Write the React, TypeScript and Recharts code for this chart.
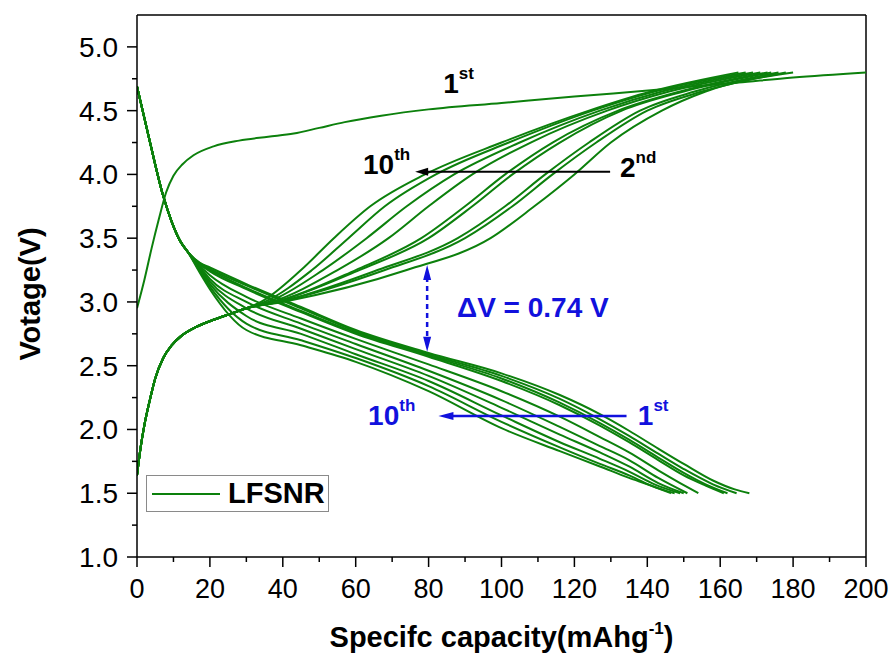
import React from 'react';
import { LineChart, Line, XAxis, YAxis, Legend, ReferenceLine, ReferenceDot } from 'recharts';

// capacity (mAh/g), voltage (V) pairs
const charge1 = [[0, 2.95], [2, 3.17], [4, 3.42], [6, 3.65], [8, 3.86], [10, 3.99], [12.5, 4.08], [15.5, 4.15], [21, 4.22], [28, 4.265], [36, 4.295], [43, 4.32], [50, 4.365], [57, 4.41], [67, 4.46], [80, 4.51], [100, 4.56], [120, 4.61], [141, 4.66], [165, 4.72], [180, 4.76], [200, 4.8]];

const disStart = [[0, 4.69], [3.5, 4.26], [7.2, 3.83], [9.5, 3.63], [11.8, 3.48], [14, 3.39]];
const dis1 = [[17, 3.31], [20, 3.27], [30, 3.14], [45, 2.96], [60, 2.78], [80, 2.6], [100, 2.44], [116, 2.27], [127, 2.12], [135, 1.99], [143, 1.85], [150, 1.73], [158, 1.6], [164, 1.53], [168, 1.5]];
const dis2 = [[17, 3.31], [20, 3.26], [30, 3.13], [45, 2.95], [60, 2.77], [80, 2.59], [100, 2.42], [116, 2.24], [127, 2.08], [135, 1.95], [143, 1.81], [150, 1.69], [158, 1.57], [164.5, 1.5]];
const dis3 = [[17, 3.3], [20, 3.25], [30, 3.11], [45, 2.93], [60, 2.76], [80, 2.58], [100, 2.4], [116, 2.21], [127, 2.05], [135, 1.92], [143, 1.78], [150, 1.66], [156, 1.57], [162, 1.5]];
const dis4 = [[17, 3.3], [20, 3.24], [30, 3.1], [45, 2.92], [60, 2.75], [80, 2.57], [100, 2.38], [116, 2.19], [127, 2.03], [135, 1.9], [143, 1.76], [150, 1.64], [156, 1.56], [161, 1.5]];
const dis5 = [[17, 3.29], [20, 3.21], [30, 3.04], [45, 2.87], [60, 2.71], [80, 2.51], [100, 2.3], [116, 2.1], [127, 1.94], [135, 1.82], [143, 1.68], [149, 1.58], [154, 1.5]];
const dis6 = [[17, 3.28], [20, 3.18], [30, 3.0], [45, 2.83], [60, 2.67], [80, 2.46], [100, 2.23], [116, 2.02], [127, 1.87], [135, 1.76], [143, 1.62], [151, 1.5]];
const dis7 = [[17, 3.27], [20, 3.16], [30, 2.95], [45, 2.79], [60, 2.63], [80, 2.42], [100, 2.17], [116, 1.96], [127, 1.82], [135, 1.71], [143, 1.58], [150, 1.5]];
const dis8 = [[17, 3.26], [20, 3.14], [30, 2.89], [45, 2.75], [60, 2.59], [80, 2.38], [100, 2.11], [116, 1.9], [127, 1.77], [135, 1.67], [142, 1.57], [149, 1.5]];
const dis9 = [[17, 3.25], [20, 3.12], [30, 2.83], [45, 2.7], [60, 2.56], [80, 2.34], [100, 2.06], [116, 1.86], [127, 1.73], [135, 1.64], [141, 1.56], [147.5, 1.5]];
const dis10 = [[17, 3.24], [20, 3.1], [30, 2.78], [45, 2.66], [60, 2.53], [80, 2.3], [100, 2.01], [116, 1.83], [127, 1.71], [135, 1.62], [140, 1.57], [146.5, 1.5]];

const chgStart = [[0, 1.64], [1, 1.86], [2, 2.03], [3.6, 2.24], [5, 2.4], [7.2, 2.56], [9.5, 2.66], [12, 2.73], [16, 2.8], [21, 2.86], [26, 2.91], [30, 2.95]];
const chgV = [3.0, 3.25, 3.5, 3.75, 4.0, 4.25, 4.5, 4.65, 4.8];
const chg2 = [40, 74, 97, 109, 120, 130, 144, 156, 180];
const chg3 = [39, 68, 90, 103, 114, 126, 140, 155, 178];
const chg4 = [39, 66, 88, 101, 112, 124, 138, 153, 176];
const chg5 = [38, 61, 80, 92, 103, 116, 133, 150, 174];
const chg6 = [38, 60, 78, 90, 101, 114, 132, 149, 173];
const chg7 = [37, 55, 69, 80, 92, 108, 129, 146, 171];
const chg8 = [36, 51, 63, 74, 87, 105, 127, 144, 169];
const chg9 = [35, 48, 58, 68, 82, 102, 125, 142, 167];
const chg10 = [34, 45, 54, 64, 79, 100, 124, 141, 165];

const xTicks = [0, 10, 20, 30, 40, 50, 60, 70, 80, 90, 100, 110, 120, 130, 140, 150, 160, 170, 180, 190, 200];
const yTicks = [1, 1.25, 1.5, 1.75, 2, 2.25, 2.5, 2.75, 3, 3.25, 3.5, 3.75, 4, 4.25, 4.5, 4.75, 5];

const GREEN = '#0c800c';
const BLUE = '#1111dd';
const FONT = '"Liberation Sans", Arial, sans-serif';

const pts = (arr: number[][]) => arr.map(([c, v]) => ({ c, v }));
const chargeCurve = (xs: number[]) => pts([...chgStart, ...xs.map((x, i) => [x, chgV[i]])]);

const series = [
  pts(charge1),
  ...[dis1, dis2, dis3, dis4, dis5, dis6, dis7, dis8, dis9, dis10].map((d) => pts([...disStart, ...d])),
  ...[chg2, chg3, chg4, chg5, chg6, chg7, chg8, chg9, chg10].map(chargeCurve),
];

// annotations: [capacity, voltage, text, superscript, colour]
const notes: [number, number, string, string, string][] = [
  [84, 4.64, '1', 'st', '#000'],
  [62, 4.0, '10', 'th', '#000'],
  [132.5, 3.98, '2', 'nd', '#000'],
  [87.8, 2.88, 'ΔV = 0.74 V', '', BLUE],
  [63.4, 2.035, '10', 'th', BLUE],
  [137.4, 2.035, '1', 'st', BLUE],
];

const YTick = (props: any) => {
  const { x, y, payload } = props;
  const major = Math.abs(payload.value * 2 - Math.round(payload.value * 2)) < 1e-6;
  return (
    <g>
      <line x1={x - (major ? 10 : 5)} x2={x} y1={y} y2={y} stroke="#000" strokeWidth={1.5} />
      {major && (
        <text x={x - 19} y={y + 10} textAnchor="end" fontSize={28} fontFamily={FONT} fill="#000">
          {payload.value.toFixed(1)}
        </text>
      )}
    </g>
  );
};

const XTick = (props: any) => {
  const { x, y, payload } = props;
  const major = payload.value % 20 === 0;
  return (
    <g>
      <line x1={x} x2={x} y1={y} y2={y + (major ? 10 : 5)} stroke="#000" strokeWidth={1.5} />
      {major && (
        <text x={x} y={y + 41} textAnchor="middle" fontSize={27} fontFamily={FONT} fill="#000">
          {payload.value}
        </text>
      )}
    </g>
  );
};

const XLabel = (props: any) => {
  const { x, y, width } = props.viewBox;
  return (
    <text x={x + width / 2} y={y + 90} textAnchor="middle" fontSize={29} fontWeight="bold" fontFamily={FONT} fill="#000">
      Specifc capacity(mAhg<tspan dy={-13} fontSize={17}>-1</tspan><tspan dy={13}>)</tspan>
    </text>
  );
};

const YLabel = (props: any) => {
  const { y, height } = props.viewBox;
  const cy = y + height / 2 + 8;
  return (
    <text x={40} y={cy} transform={`rotate(-90 40 ${cy})`} textAnchor="middle" fontSize={29} fontWeight="bold" fontFamily={FONT} fill="#000">
      Votage(V)
    </text>
  );
};

const arrow = (color: string, w: number, dash?: string, both?: boolean, head = 14, half = 5) => (p: any) => {
  const { x1, y1, x2, y2 } = p;
  const len = Math.hypot(x2 - x1, y2 - y1) || 1;
  const ux = (x2 - x1) / len;
  const uy = (y2 - y1) / len;
  const tri = (tx: number, ty: number, sx: number, sy: number) => {
    const bx = tx - sx * head;
    const by = ty - sy * head;
    return `${tx},${ty} ${bx - sy * half},${by + sx * half} ${bx + sy * half},${by - sx * half}`;
  };
  const sx = both ? x1 + ux * head * 0.8 : x1;
  const sy = both ? y1 + uy * head * 0.8 : y1;
  return (
    <g>
      <line x1={sx} y1={sy} x2={x2 - ux * head * 0.8} y2={y2 - uy * head * 0.8} stroke={color} strokeWidth={w} strokeDasharray={dash} />
      <polygon points={tri(x2, y2, ux, uy)} fill={color} />
      {both && <polygon points={tri(x1, y1, -ux, -uy)} fill={color} />}
    </g>
  );
};

const noteShape = (n: [number, number, string, string, string]) => (p: any) => (
  <text x={p.cx} y={p.cy} fill={n[4]} fontSize={28} fontWeight="bold" fontFamily={FONT}>
    {n[2]}
    {n[3] && <tspan dy={-14} fontSize={17}>{n[3]}</tspan>}
  </text>
);

const LegendBox = (props: any) => {
  const items = (props.payload || []).filter((p: any) => p.type !== 'none');
  return (
    <div style={{ border: '1px solid #8a8a8a', background: '#fff', width: 183, height: 37, boxSizing: 'border-box', display: 'flex', alignItems: 'center', fontFamily: FONT }}>
      {items.map((it: any) => (
        <React.Fragment key={it.value}>
          <svg width={76} height={10} style={{ marginLeft: 5 }}>
            <line x1={0} x2={68} y1={5} y2={5} stroke={GREEN} strokeWidth={2} />
          </svg>
          <span style={{ fontSize: 29, fontWeight: 'bold', color: '#000', lineHeight: '35px' }}>{it.value}</span>
        </React.Fragment>
      ))}
    </div>
  );
};

export default function App() {
  return (
    <div style={{ position: 'absolute', left: 0, top: 0, background: '#fff', fontFamily: FONT }}>
      <LineChart width={893} height={662} margin={{ top: 15, right: 27, bottom: 0, left: 0 }}>
        <XAxis
          type="number"
          dataKey="c"
          domain={[0, 200]}
          ticks={xTicks}
          interval={0}
          tickSize={0}
          tickMargin={0}
          tick={<XTick />}
          height={105}
          stroke="#000"
          strokeWidth={1.5}
          allowDataOverflow
          label={XLabel}
        />
        <YAxis
          type="number"
          domain={[1, 5.25]}
          ticks={yTicks}
          interval={0}
          tickSize={0}
          tickMargin={0}
          tick={<YTick />}
          width={137}
          stroke="#000"
          strokeWidth={1.5}
          allowDataOverflow
          label={YLabel}
        />
        <ReferenceLine y={5.25} stroke="#000" strokeWidth={1.5} />
        <ReferenceLine x={200} stroke="#000" strokeWidth={1.5} />
        {series.map((d, i) => (
          <Line
            key={i}
            data={d}
            dataKey="v"
            name="LFSNR"
            type="monotone"
            stroke={GREEN}
            strokeWidth={2}
            dot={false}
            activeDot={false}
            legendType={i === 0 ? 'line' : 'none'}
            isAnimationActive={false}
          />
        ))}
        <ReferenceLine segment={[{ x: 129.8, y: 4.02 }, { x: 76.3, y: 4.02 }]} shape={arrow('#000', 2, undefined, false, 13, 4)} />
        <ReferenceLine segment={[{ x: 134.3, y: 2.106 }, { x: 82.7, y: 2.106 }]} shape={arrow(BLUE, 2.5, undefined, false, 15, 4)} />
        <ReferenceLine segment={[{ x: 79.6, y: 3.29 }, { x: 79.6, y: 2.61 }]} shape={arrow(BLUE, 2.5, '5 4', true, 15, 4)} />
        {notes.map((n, i) => (
          <ReferenceDot key={i} x={n[0]} y={n[1]} r={0} shape={noteShape(n)} />
        ))}
        <Legend
          layout="vertical"
          align="center"
          verticalAlign="middle"
          wrapperStyle={{ left: 146, top: 475, width: 'auto' }}
          content={LegendBox}
        />
      </LineChart>
    </div>
  );
}
